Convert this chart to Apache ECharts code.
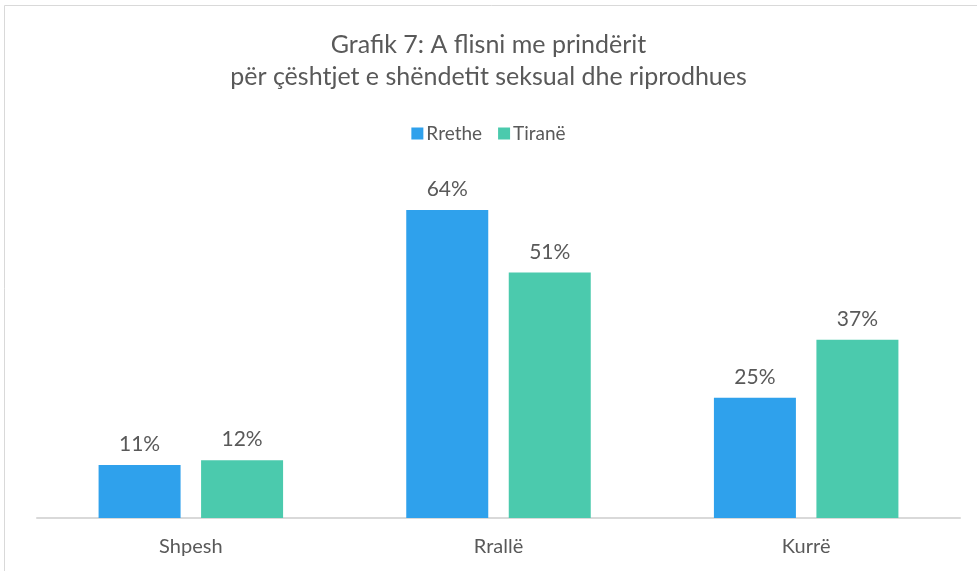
<!DOCTYPE html>
<html>
<head>
<meta charset="utf-8">
<script src="https://cdn.jsdelivr.net/npm/echarts@6/dist/echarts.min.js"></script>
<style>
  html, body { margin: 0; padding: 0; background: #fff; }
  #chart { width: 977px; height: 571px; }
</style>
</head>
<body>
<div id="chart"></div>
<script>
const categories = ['Shpesh', 'Rrallë', 'Kurrë'];
const rrethe = [11, 64, 25];
const tirane = [12, 51, 37];

const chart = echarts.init(document.getElementById('chart'));
const textColor = '#595959';
const font = 'Lato';

const label = {
    show: true,
    position: 'top',
    distance: 10,
    formatter: '{c}%',
    fontFamily: font,
    fontSize: 21,
    color: textColor
};

const option = {
    animation: false,
    graphic: [{
        type: 'rect',
        shape: { x: 4.5, y: 5.5, width: 980, height: 600 },
        style: { fill: 'none', stroke: '#d9d9d9', lineWidth: 1 },
        silent: true
    }],
    title: {
        text: 'Grafik 7: A flisni me prindërit\npër çështjet e shëndetit seksual dhe riprodhues',
        left: 'center',
        top: 24,
        textStyle: {
            fontFamily: font,
            fontSize: 25,
            fontWeight: 'normal',
            color: textColor,
            lineHeight: 32
        }
    },
    legend: {
        top: 119,
        left: 'center',
        itemWidth: 12,
        itemHeight: 12,
        itemGap: 16,
        icon: 'rect',
        textStyle: { fontFamily: font, fontSize: 19, color: textColor, padding: [0, 0, 0, -2] }
    },
    grid: {
        left: 37,
        right: 17,
        top: 181,
        bottom: 53,
        containLabel: false
    },
    xAxis: {
        type: 'category',
        data: categories,
        axisLine: { lineStyle: { color: '#d9d9d9', width: 2 } },
        axisTick: { show: false },
        axisLabel: { fontFamily: font, fontSize: 20, color: textColor, margin: 19 }
    },
    yAxis: {
        type: 'value',
        min: 0,
        max: 70,
        show: false
    },
    series: [
        {
            name: 'Rrethe',
            type: 'bar',
            data: rrethe,
            barWidth: 82,
            barGap: '25%',
            itemStyle: { color: '#2fa1ec' },
            label: label
        },
        {
            name: 'Tiranë',
            type: 'bar',
            data: tirane,
            barWidth: 82,
            itemStyle: { color: '#4bcaad' },
            label: label
        }
    ]
};
chart.setOption(option);
</script>
</body>
</html>
